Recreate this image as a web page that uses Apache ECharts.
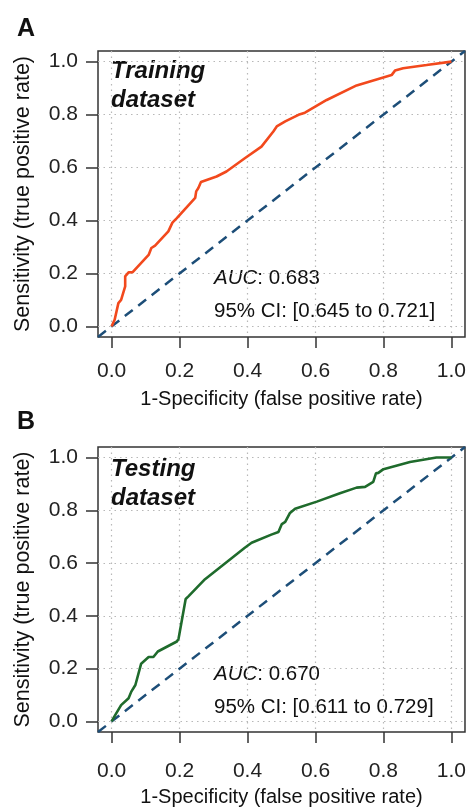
<!DOCTYPE html>
<html>
<head>
<meta charset="utf-8">
<script src="https://cdn.jsdelivr.net/npm/echarts@6/dist/echarts.min.js"></script>
<style>
html, body { margin: 0; padding: 0; background: #fff; }
#chart { width: 469px; height: 808px; }
</style>
</head>
<body>
<div id="chart"></div>
<script>
// tick positions shared by both panels
var tickValues = [0, 0.2, 0.4, 0.6, 0.8, 1.0];
var axisRange = [-0.04, 1.04];

// A: training ROC curve
var trainFpr = [0, 0.009, 0.02, 0.028, 0.04, 0.04, 0.05, 0.062, 0.109, 0.117, 0.128, 0.167, 0.179, 0.192,
	0.246, 0.249, 0.255, 0.263, 0.309, 0.338, 0.392, 0.441, 0.476, 0.486, 0.511, 0.516, 0.55, 0.569,
	0.633, 0.721, 0.77, 0.824, 0.834, 0.858, 0.927, 1.0];
var trainTpr = [0, 0.025, 0.088, 0.10, 0.151, 0.189, 0.204, 0.205, 0.27, 0.296, 0.305, 0.359, 0.392, 0.409,
	0.485, 0.51, 0.522, 0.545, 0.566, 0.585, 0.635, 0.679, 0.736, 0.755, 0.774, 0.78, 0.799, 0.807,
	0.855, 0.91, 0.929, 0.949, 0.966, 0.975, 0.987, 1.0];

// B: testing ROC curve
var testFpr = [0, 0.011, 0.028, 0.05, 0.058, 0.07, 0.087, 0.109, 0.123, 0.136, 0.192, 0.197, 0.218, 0.226,
	0.275, 0.392, 0.412, 0.47, 0.491, 0.501, 0.511, 0.525, 0.54, 0.604, 0.672, 0.721, 0.746, 0.77,
	0.778, 0.785, 0.8, 0.878, 0.956, 0.995, 1.0];
var testTpr = [0, 0.025, 0.062, 0.088, 0.113, 0.138, 0.219, 0.244, 0.244, 0.265, 0.303, 0.313, 0.464, 0.474,
	0.539, 0.658, 0.677, 0.708, 0.718, 0.748, 0.756, 0.79, 0.806, 0.833, 0.865, 0.886, 0.889, 0.908,
	0.94, 0.942, 0.956, 0.983, 1.0, 1.0, 1.0];

// chance line (spans the whole plot region like abline)
var refLine = [[-0.04, -0.04], [1.04, 1.04]];

var FONT = 'Liberation Sans, Arial, Helvetica, sans-serif';

function zip(xs, ys) {
	var out = [];
	for (var i = 0; i < xs.length; i++) out.push([xs[i], ys[i]]);
	return out;
}

// labelMargin / nameGap differ a little between the two panels
function makeAxis(kind, gi, labelMargin, nameGap) {
	var isX = kind === 'x';
	return {
		type: 'value',
		gridIndex: gi,
		min: axisRange[0],
		max: axisRange[1],
		position: isX ? 'bottom' : 'left',
		name: isX ? '1-Specificity (false positive rate)' : 'Sensitivity (true positive rate)',
		nameLocation: 'middle',
		nameGap: nameGap,
		nameTextStyle: { fontFamily: FONT, fontSize: isX ? 20 : 21.5, color: '#111' },
		axisLine: { show: false, onZero: false },
		axisTick: {
			show: true, length: isX ? 11 : 12, customValues: tickValues,
			lineStyle: { color: '#333', width: 1.5 }
		},
		axisLabel: {
			customValues: tickValues, margin: labelMargin,
			fontFamily: FONT, fontSize: 21, color: '#222',
			formatter: function (v) { return v.toFixed(1); }
		},
		splitLine: {
			show: true,
			lineStyle: { color: '#b8b8b8', type: [1.5, 4], width: 1.2 }
		}
	};
}

var chart = echarts.init(document.getElementById('chart'));

var labelStyle = { fontFamily: FONT, fontSize: 25, fontWeight: 'bold', color: '#111' };
var richAuc = { i: { fontStyle: 'italic', fontFamily: FONT, fontSize: 20.5, lineHeight: 33, fill: '#111' } };

var option = {
	backgroundColor: '#fff',
	animation: false,
	title: [
		{ text: 'A', left: 12, top: 12, textStyle: labelStyle },
		{ text: 'B', left: 12, top: 405, textStyle: labelStyle }
	],
	grid: [
		{ left: 98, top: 51, width: 367, height: 286, show: true, borderColor: '#333', borderWidth: 1.5, backgroundColor: '#fff' },
		{ left: 98, top: 447, width: 367, height: 287, show: true, borderColor: '#333', borderWidth: 1.5, backgroundColor: '#fff' }
	],
	xAxis: [makeAxis('x', 0, 24, 52), makeAxis('x', 1, 29, 55)],
	yAxis: [makeAxis('y', 0, 20, 64), makeAxis('y', 1, 20, 64)],
	series: [
		{
			type: 'line', xAxisIndex: 0, yAxisIndex: 0, data: refLine, symbol: 'none',
			lineStyle: { color: '#1d4e78', width: 2.5, type: [10, 7] }
		},
		{
			type: 'line', xAxisIndex: 0, yAxisIndex: 0, data: zip(trainFpr, trainTpr), symbol: 'none',
			lineStyle: { color: '#f2491d', width: 2.6 }
		},
		{
			type: 'line', xAxisIndex: 1, yAxisIndex: 1, data: refLine, symbol: 'none',
			lineStyle: { color: '#1d4e78', width: 2.5, type: [10, 7] }
		},
		{
			type: 'line', xAxisIndex: 1, yAxisIndex: 1, data: zip(testFpr, testTpr), symbol: 'none',
			lineStyle: { color: '#1f6b2c', width: 2.6 }
		}
	],
	graphic: [
		{
			type: 'text', left: 111, top: 57,
			style: { text: 'Training\ndataset', fontFamily: FONT, fontSize: 24, fontWeight: 'bold', fontStyle: 'italic', lineHeight: 29, fill: '#111' }
		},
		{
			type: 'text', left: 111, top: 455,
			style: { text: 'Testing\ndataset', fontFamily: FONT, fontSize: 24, fontWeight: 'bold', fontStyle: 'italic', lineHeight: 29, fill: '#111' }
		},
		{
			type: 'text', left: 214, top: 262,
			style: {
				text: '{i|AUC}: 0.683\n95% CI: [0.645 to 0.721]',
				fontFamily: FONT, fontSize: 20.5, lineHeight: 33, fill: '#111', rich: richAuc
			}
		},
		{
			type: 'text', left: 214, top: 658,
			style: {
				text: '{i|AUC}: 0.670\n95% CI: [0.611 to 0.729]',
				fontFamily: FONT, fontSize: 20.5, lineHeight: 33, fill: '#111', rich: richAuc
			}
		}
	]
};

chart.setOption(option);
</script>
</body>
</html>
